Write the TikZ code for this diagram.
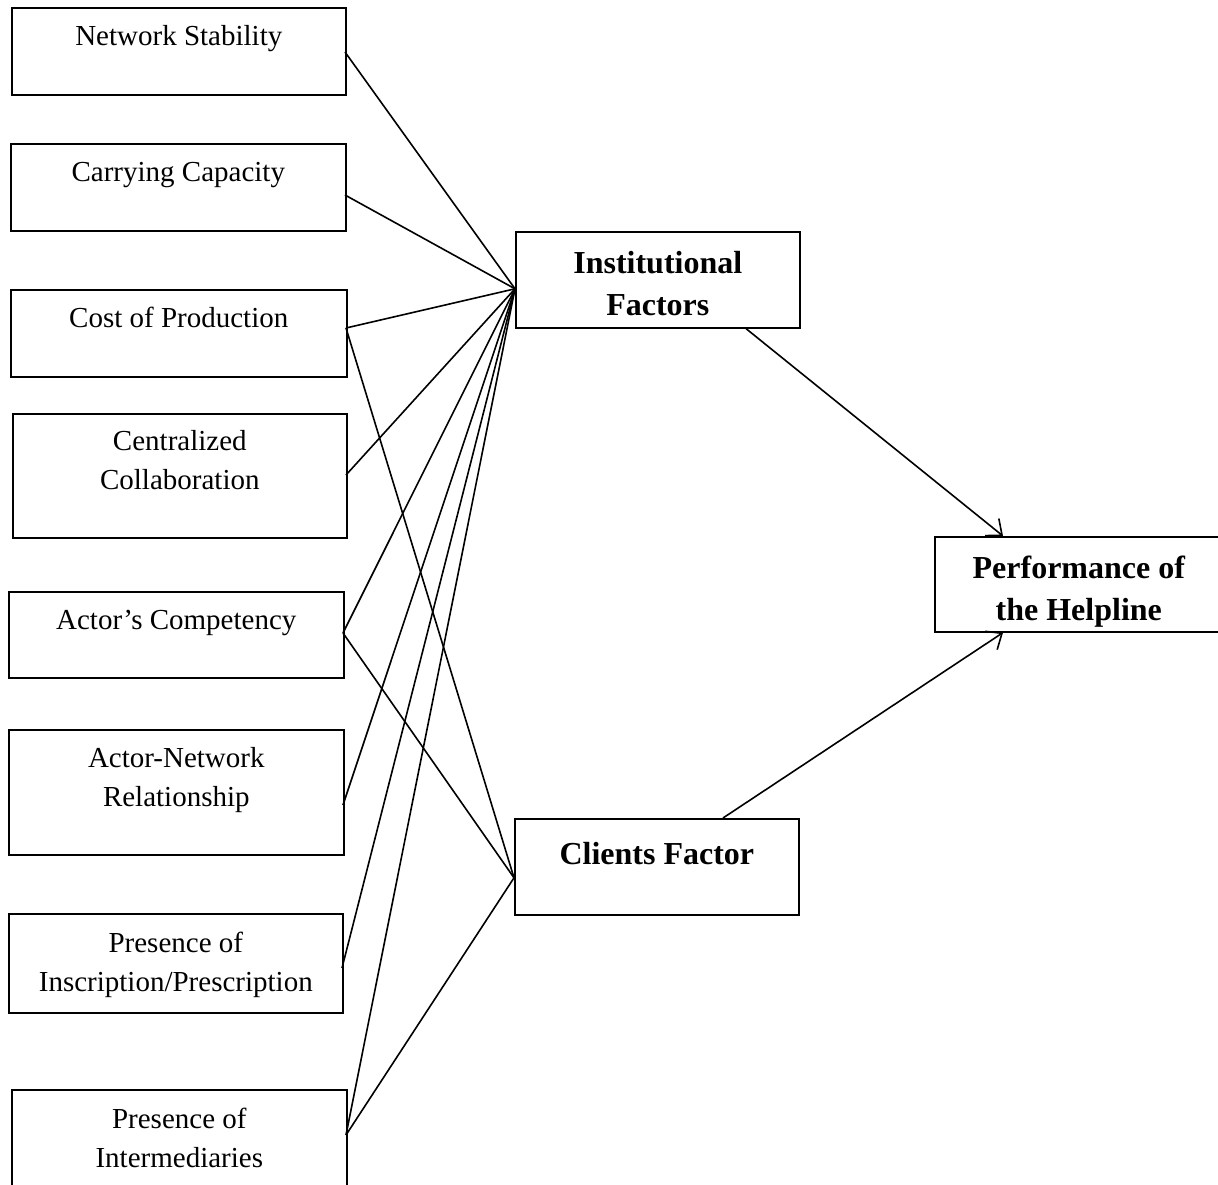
\documentclass[tikz,border=0pt]{standalone}
\usepackage{fontspec}
\setmainfont{Liberation Serif}
\usetikzlibrary{positioning, calc, arrows.meta}

\begin{document}
\begin{tikzpicture}[x=1pt, y=-1pt,
    box/.style = {draw, line width=1.6pt, anchor=north west, inner sep=0pt},
    txt/.style = {font=\fontsize{29}{39}\selectfont, align=center, inner sep=0pt,
        anchor=north, execute at begin node=\strut},
    btxt/.style = {txt, font=\fontsize{32}{42}\selectfont\bfseries},
    link/.style = {line width=1.6pt},
    every edge/.style = {draw, line width=1.6pt, -{Straight Barb[length=13pt, width=22pt]}}
]
\useasboundingbox (0,0) rectangle (1218,1184);

% factors on the left
\foreach \name/\xa/\ya/\xb/\yb/\yc/\ty/\lbl in {%
    stab/11/7/345/94/52/11/Network Stability,
    carry/10/143/345/230/195/11/Carrying Capacity,
    cost/10/289/346/376/328/10.7/Cost of Production,
    central/12/413/346/537/475/17/{Centralized\\Collaboration},
    comp/8/591/343/677/633/10.7/Actor’s Competency,
    relation/8/729/343/854/805/18/{Actor-Network\\Relationship},
    inscr/8/913/342/1012/968/18.5/{Presence of\\Inscription/Prescription},
    inter/11/1089/346/1215/1135/18.5/{Presence of\\Intermediaries}} {
    \node (\name) [box, minimum width=\xb-\xa, minimum height=\yb-\ya] at (\xa,\ya) {};
    \node (\name-t) [txt] at ($(\name.north)+(0,\ty)$) {\lbl};
    \coordinate (\name-p) at (\xb,\yc);
}

% middle and right
\node (inst) [box, minimum width=284, minimum height=96] at (515,231) {};
\node (inst-t) [btxt] at ($(inst.north)+(0,20)$) {Institutional\\Factors};
\node (cli) [box, minimum width=284, minimum height=96] at (514,818) {};
\node (cli-t) [btxt] at ($(cli.north)+(0,16.6)$) {Clients Factor};
\node (perf) [box, minimum width=288, minimum height=95] at (934,536) {};
\node (perf-t) [btxt] at ($(perf.north)+(0,20)$) {Performance of\\the Helpline};

\coordinate (inst-in) at ($(inst.west)+(0,9)$);
\coordinate (cli-in) at ($(cli.west)+(0,11)$);
\coordinate (inst-out) at ($(inst.south west)+(231,0)$);
\coordinate (cli-out) at ($(cli.north west)+(209,0)$);
\coordinate (perf-top) at ($(perf.north west)+(69,0)$);
\coordinate (perf-bot) at ($(perf.south west)+(69,0)$);

\foreach \src in {stab,carry,cost,central,comp,relation,inscr,inter}
    \draw[link] (\src-p) -- (inst-in);
\foreach \src in {cost,comp,inter}
    \draw[link] (\src-p) -- (cli-in);

\path
    (inst-out) edge (perf-top)
    (cli-out) edge (perf-bot);
\end{tikzpicture}
\end{document}
